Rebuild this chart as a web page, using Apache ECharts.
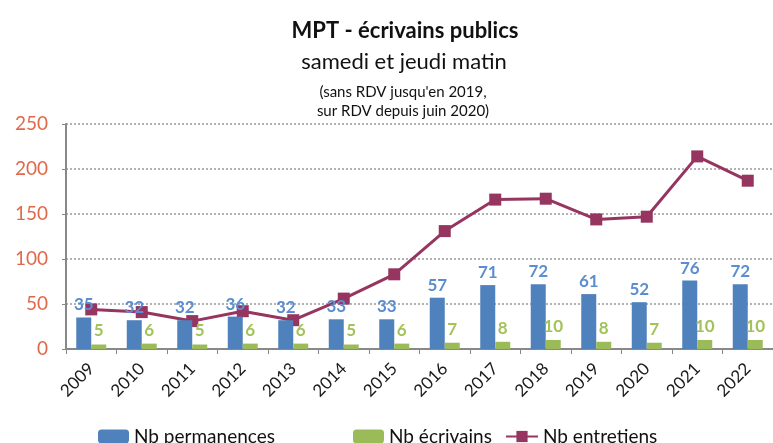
<!DOCTYPE html>
<html><head><meta charset="utf-8">
<script src="https://cdn.jsdelivr.net/npm/echarts@6/dist/echarts.min.js"></script>
<style>html,body{margin:0;padding:0;background:#fff}#c{width:773px;height:443px}</style>
</head><body><div id="c"></div>
<script>
const years = ['2009','2010','2011','2012','2013','2014','2015','2016','2017','2018','2019','2020','2021','2022'];
const permanences = [35,32,32,36,32,33,33,57,71,72,61,52,76,72];
const ecrivains = [5,6,5,6,6,5,6,7,8,10,8,7,10,10];
const entretiens = [44,41,31,42,32,56,83,131,166,167,144,147,214,187];
const yTicks = [0,50,100,150,200,250];

const FONT = 'Lato';
const chart = echarts.init(document.getElementById('c'));
const legendText = {fontFamily:FONT,fontSize:19,color:'#111'};
chart.setOption({
  animation:false,
  textStyle:{fontFamily:FONT},
  title:[
    {text:'MPT - écrivains publics', left:400, top:15, textAlign:'center',
     textStyle:{fontFamily:FONT,fontSize:22,fontWeight:'bold',color:'#111'}},
    {text:'samedi et jeudi matin', left:399, top:46, textAlign:'center',
     textStyle:{fontFamily:FONT,fontSize:22,fontWeight:'normal',color:'#111'}},
    {text:"(sans RDV jusqu'en 2019,\nsur RDV depuis juin 2020)", left:398, top:78, textAlign:'center',
     textStyle:{fontFamily:FONT,fontSize:15,fontWeight:'normal',color:'#111',lineHeight:19}}
  ],
  legend:[
    {top:422, left:93, itemWidth:31, itemHeight:14, textStyle:legendText, data:['Nb permanences']},
    {top:422, left:348, itemWidth:31, itemHeight:14, textStyle:legendText, data:['Nb écrivains']},
    {top:422, left:500, itemWidth:32, itemHeight:14, textStyle:legendText, data:['Nb entretiens']}
  ],
  grid:{left:66,right:-8,top:124,bottom:94,containLabel:false},
  xAxis:{
    type:'category', data:years,
    axisLine:{lineStyle:{color:'#888',width:2}},
    axisTick:{show:true,alignWithLabel:false,length:5,lineStyle:{color:'#888'}},
    axisLabel:{rotate:45,fontSize:17,color:'#1a1a1a',margin:17,fontFamily:FONT}
  },
  yAxis:{
    type:'value', min:0, max:250, interval:50,
    axisLine:{show:true,lineStyle:{color:'#888',width:2}},
    axisTick:{show:true,length:4,lineStyle:{color:'#888'}},
    axisLabel:{fontSize:19,color:'#e0694c',margin:18,fontFamily:FONT,
      formatter:v=>yTicks.includes(v)?String(v):''},
    splitLine:{lineStyle:{color:'#999',type:[2,2],width:1.5}}
  },
  series:[
    {name:'Nb permanences', type:'bar', data:permanences, barWidth:15, barGap:'0%',
     itemStyle:{color:'#4f81bd'},
     label:{show:true,position:'top',distance:4,fontSize:17,fontWeight:'bold',color:'#5b8dd1',fontFamily:FONT}},
    {name:'Nb écrivains', type:'bar', data:ecrivains, barWidth:15,
     itemStyle:{color:'#9bbb59'},
     label:{show:true,position:'top',distance:5,fontSize:17,fontWeight:'bold',color:'#a3c25a',fontFamily:FONT}},
    {name:'Nb entretiens', type:'line', data:entretiens, symbol:'rect', symbolSize:12,
     lineStyle:{color:'#953560',width:3}, itemStyle:{color:'#953560'}, z:1}
  ]
});
</script></body></html>
